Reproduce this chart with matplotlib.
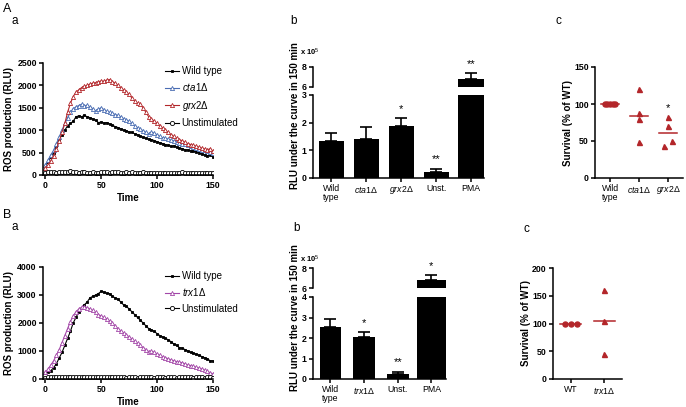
import numpy as np
import matplotlib
matplotlib.use("Agg")
import matplotlib.pyplot as plt

plt.rcParams["font.family"] = ["Liberation Sans", "DejaVu Sans"]
plt.rcParams["mathtext.fontset"] = "custom"
plt.rcParams["mathtext.it"] = "Liberation Sans:italic"
plt.rcParams["mathtext.rm"] = "Liberation Sans"

# -------------------------------------------------------------------------
# Data
# -------------------------------------------------------------------------

time = np.arange(0, 150.1, 2.5)

a_wt = [200, 300, 400, 500, 650, 800, 900, 1000, 1100, 1150, 1200, 1300, 1320,
        1300, 1330, 1300, 1280, 1250, 1220, 1170, 1180, 1160, 1170, 1140, 1110,
        1080, 1060, 1030, 1000, 990, 960, 950, 920, 900, 860, 840, 820, 800, 790,
        770, 740, 720, 700, 680, 660, 640, 650, 620, 600, 590, 560, 560, 540,
        530, 520, 500, 470, 450, 430, 450, 400]
a_cta1 = [220, 330, 450, 550, 700, 850, 1000, 1150, 1280, 1400, 1480, 1520,
          1550, 1580, 1540, 1560, 1520, 1480, 1430, 1470, 1500, 1460, 1420, 1400,
          1380, 1350, 1330, 1300, 1260, 1230, 1200, 1150, 1100, 1060, 1020, 990,
          950, 920, 960, 930, 900, 860, 830, 820, 800, 780, 760, 740, 720, 700,
          690, 670, 650, 630, 610, 580, 560, 550, 530, 520, 500]
a_grx2 = [150, 220, 320, 430, 580, 750, 950, 1150, 1400, 1600, 1750, 1850,
          1900, 1950, 1980, 2000, 2030, 2050, 2060, 2080, 2100, 2090, 2120, 2130,
          2080, 2050, 2000, 1950, 1900, 1850, 1800, 1720, 1650, 1600, 1580, 1500,
          1400, 1300, 1250, 1200, 1150, 1100, 1050, 1000, 950, 900, 860, 820,
          790, 760, 730, 700, 680, 660, 640, 620, 600, 580, 560, 590, 530]
a_unst = [50, 60, 70, 60, 55, 65, 70, 60, 75, 80, 70, 60, 55, 65, 60, 55, 50,
          60, 55, 50, 60, 65, 60, 55, 60, 65, 60, 55, 50, 60, 55, 60, 50, 45, 55,
          60, 50, 45, 55, 50, 40, 35, 45, 40, 35, 40, 45, 40, 50, 60, 55, 50, 45,
          40, 45, 50, 45, 40, 45, 50, 40]

b_wt = [200, 250, 300, 400, 550, 750, 950, 1200, 1450, 1700, 2000, 2200, 2400,
        2550, 2650, 2750, 2900, 2950, 3000, 3050, 3130, 3100, 3060, 3050, 2950,
        2900, 2850, 2750, 2650, 2600, 2500, 2400, 2300, 2200, 2100, 2000, 1900,
        1800, 1750, 1700, 1620, 1550, 1500, 1450, 1400, 1330, 1250, 1200, 1120,
        1100, 1050, 1000, 950, 920, 880, 850, 800, 760, 720, 650, 650]
b_trx1 = [250, 350, 500, 650, 850, 1050, 1300, 1550, 1800, 2050, 2250, 2400,
          2500, 2560, 2580, 2550, 2500, 2450, 2380, 2300, 2250, 2200, 2150, 2080,
          2000, 1900, 1800, 1720, 1650, 1580, 1500, 1430, 1350, 1280, 1200, 1120,
          1050, 980, 1000, 950, 900, 850, 800, 760, 720, 680, 650, 620, 600, 580,
          540, 500, 480, 450, 420, 390, 360, 320, 280, 220, 180]
b_unst = [50, 60, 55, 65, 60, 70, 65, 60, 70, 75, 65, 60, 55, 60, 65, 60, 55,
          60, 65, 60, 55, 60, 65, 60, 55, 60, 55, 60, 55, 50, 55, 60, 55, 50, 55,
          60, 70, 60, 55, 50, 55, 60, 55, 50, 55, 60, 55, 50, 60, 70, 65, 60, 55,
          50, 55, 60, 55, 50, 55, 60, 50]

# bar panels (x 10^5)
a_bar_labels = ["Wild\ntype", "$\\mathit{cta1}$Δ", "$\\mathit{grx2}$Δ", "Unst.", "PMA"]
a_bar_vals = [1.33, 1.40, 1.87, 0.22, 6.8]
a_bar_err = [0.28, 0.43, 0.30, 0.12, 0.6]
a_bar_stars = ["", "", "*", "**", "**"]

b_bar_labels = ["Wild\ntype", "$\\mathit{trx1}$Δ", "Unst.", "PMA"]
b_bar_vals = [2.55, 2.03, 0.22, 6.75]
b_bar_err = [0.38, 0.27, 0.13, 0.55]
b_bar_stars = ["", "*", "**", "*"]

# survival panels
a_surv_labels = ["Wild\ntype", "$\\mathit{cta1}$Δ", "$\\mathit{grx2}$Δ"]
a_surv_vals = [[100, 100, 100, 100, 100], [120, 88, 80, 48], [82, 70, 50, 43]]
a_surv_median = [100, 84, 61]
a_surv_stars = ["", "", "*"]

b_surv_labels = ["WT", "$\\mathit{trx1}$Δ"]
b_surv_vals = [[100, 100, 100], [160, 105, 45]]
b_surv_median = [100, 104]

# -------------------------------------------------------------------------
# Styling helpers
# -------------------------------------------------------------------------

RED = "#b3262a"
BLUE = "#4a6db3"
PURPLE = "#a347a8"
W, H = 686, 407


def px_axes(fig, left, top, right, bottom):
    return fig.add_axes([left / W, 1 - bottom / H, (right - left) / W, (bottom - top) / H])


def prism(ax, bottom=True):
    for s in ["top", "right"]:
        ax.spines[s].set_visible(False)
    ax.spines["left"].set_linewidth(1.1)
    ax.spines["bottom"].set_linewidth(1.1)
    if not bottom:
        ax.spines["bottom"].set_visible(False)
        ax.tick_params(axis="x", bottom=False, labelbottom=False)
    ax.tick_params(direction="out", length=3, width=1.1, labelsize=6.3, pad=1.5)
    for t in ax.get_yticklabels():
        t.set_fontweight("bold")


fig = plt.figure(figsize=(W / 100, H / 100), dpi=100)

# -------------------------------------------------------------------------
# Kinetic curves
# -------------------------------------------------------------------------


def curve_panel(top, bottom, series, ymax, yticks, legend_top):
    ax = px_axes(fig, 43, top, 213, bottom)
    for vals, color, marker, fill, label in series:
        ax.plot(time, vals, color=color, lw=0.8, marker=marker, ms=3.0 if marker != "s" else 2.1,
                mfc=fill, mec=color, mew=0.6, label=label)
    ax.set_xlim(-2, 150)
    ax.set_ylim(0, ymax)
    ax.set_xticks([0, 50, 100, 150])
    ax.set_yticks(yticks)
    prism(ax)
    for t in ax.get_xticklabels():
        t.set_fontweight("bold")
    ax.set_xlabel("Time", fontsize=7, fontweight="bold", labelpad=2)
    ax.set_ylabel("ROS production (RLU)", fontsize=7, fontweight="bold", labelpad=2)
    ax.legend(loc="upper left", bbox_to_anchor=(165 / W, 1 - legend_top / H),
              bbox_transform=fig.transFigure, frameon=False, fontsize=7,
              handlelength=1.4, handletextpad=0.3, labelspacing=0.55,
              borderaxespad=0, borderpad=0)
    return ax


curve_panel(63, 175, [
    (a_wt, "black", "s", "black", "Wild type"),
    (a_cta1, BLUE, "^", "white", "$\\mathit{cta1}$Δ"),
    (a_grx2, RED, "^", "white", "$\\mathit{grx2}$Δ"),
    (a_unst, "black", "o", "white", "Unstimulated"),
], 2500, [0, 500, 1000, 1500, 2000, 2500], 66)

curve_panel(267, 379, [
    (b_wt, "black", "s", "black", "Wild type"),
    (b_trx1, PURPLE, "^", "white", "$\\mathit{trx1}$Δ"),
    (b_unst, "black", "o", "white", "Unstimulated"),
], 4000, [0, 1000, 2000, 3000, 4000], 271)

# -------------------------------------------------------------------------
# Broken-axis bar panels
# -------------------------------------------------------------------------


def bar_panel(lo_top, lo_bottom, up_top, up_bottom, right, labels, vals, errs, stars,
              lo_max, lo_ticks, widths, exp_y, lab_y):
    x = np.arange(len(vals))
    lo = px_axes(fig, 313, lo_top, right, lo_bottom)
    up = px_axes(fig, 313, up_top, right, up_bottom)
    for ax in (lo, up):
        ax.bar(x, vals, width=widths, color="black")
        ax.errorbar(x, vals, yerr=[np.zeros(len(vals)), errs], fmt="none",
                    ecolor="black", elinewidth=1.2, capsize=4.5, capthick=1.2)
        ax.set_xlim(-0.52, len(vals) - 1 + widths[-1] / 2 + 0.01)
    lo.set_ylim(0, lo_max)
    lo.set_yticks(lo_ticks)
    up.set_ylim(6, 8)
    up.set_yticks([6, 8])
    lo.set_xticks(x)
    lo.set_xticklabels(labels)
    prism(lo)
    prism(up, bottom=False)
    for t in lo.get_xticklabels():
        t.set_fontweight("normal")
        t.set_linespacing(0.95)
    for xi, v, e, s in zip(x, vals, errs, stars):
        if not s:
            continue
        ax = up if v > lo_max else lo
        ax.annotate(s, (xi, v + e), xytext=(0, 4.5), textcoords="offset points",
                    ha="center", va="baseline", fontsize=8, annotation_clip=False)
    fig.text(300 / W, 1 - exp_y / H, "x 10$^5$", fontsize=5.5, fontweight="bold",
             ha="left", va="center")
    fig.text(295 / W, 1 - lab_y / H, "RLU under the curve in 150 min",
             rotation=90, fontsize=7, fontweight="bold", ha="center", va="center")


bar_panel(95, 178, 67, 87, 484, a_bar_labels, a_bar_vals, a_bar_err, a_bar_stars,
          3, [0, 1, 2, 3], [0.72] * 5, 52, 116)
bar_panel(297, 379, 268, 288, 446, b_bar_labels, b_bar_vals, b_bar_err, b_bar_stars,
          4, [0, 1, 2, 3, 4], [0.65, 0.65, 0.65, 0.85], 259, 318)

# -------------------------------------------------------------------------
# Survival scatter panels
# -------------------------------------------------------------------------


def surv_panel(left, top, right, bottom, labels, groups, medians, stars, ymax, yticks, ylab_x):
    ax = px_axes(fig, left, top, right, bottom)
    for i, g in enumerate(groups):
        if len(set(g)) == 1:
            offs = np.linspace(-0.18, 0.18, len(g))
            marker = "o"
        else:
            offs = np.zeros(len(g))
            marker = "^"
            if i == 2:
                offs = np.array([0, 0, 0.13, -0.13])
        ax.plot(i + offs, g, ls="none", marker=marker, ms=3.6, color=RED, mec=RED)
        ax.plot([i - 0.3, i + 0.3], [medians[i], medians[i]], color=RED, lw=1.1)
        if stars and stars[i]:
            ax.annotate(stars[i], (i, max(g)), xytext=(0, 4.5), textcoords="offset points",
                        ha="center", va="baseline", fontsize=8)
    ax.set_xlim(-0.52, len(groups) - 0.48)
    ax.set_ylim(0, ymax)
    ax.set_yticks(yticks)
    ax.set_xticks(range(len(groups)))
    ax.set_xticklabels(labels)
    prism(ax)
    for t in ax.get_xticklabels():
        t.set_linespacing(0.95)
    fig.text(ylab_x / W, 1 - ((top + bottom) / 2) / H, "Survival (% of WT)", rotation=90,
             fontsize=7, fontweight="bold", ha="center", va="center")


surv_panel(595, 67, 683, 178, a_surv_labels, a_surv_vals, a_surv_median, a_surv_stars,
           150, [0, 50, 100, 150], 568)
surv_panel(553, 268, 622, 379, b_surv_labels, b_surv_vals, b_surv_median, None,
           200, [0, 50, 100, 150, 200], 526)

# -------------------------------------------------------------------------
# Panel letters
# -------------------------------------------------------------------------

for txt, x, y, fs in [("A", 3, 9, 9), ("a", 12, 21, 8.5), ("b", 290, 21, 8.5), ("c", 556, 21, 8.5),
                      ("B", 3, 215, 9), ("a", 12, 227, 8.5), ("b", 293, 228, 8.5),
                      ("c", 523, 229, 8.5)]:
    fig.text(x / W, 1 - y / H, txt, fontsize=fs, ha="left", va="center")

fig.savefig("out.png", dpi=100)
